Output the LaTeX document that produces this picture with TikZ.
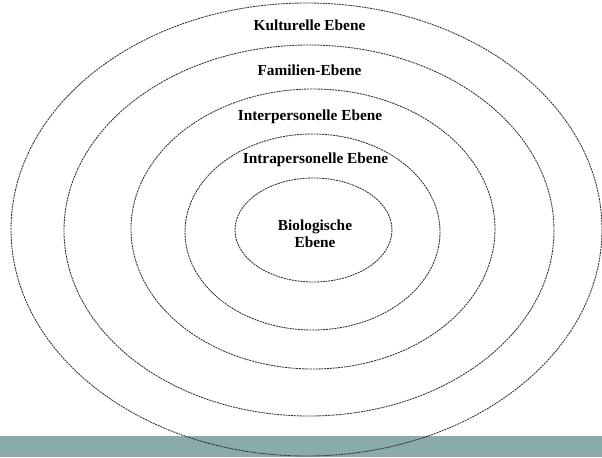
\documentclass[tikz,border=0pt]{standalone}
\usepackage{fontspec}
\setmainfont{Liberation Serif}
\usepackage{xcolor}
\usetikzlibrary{positioning}
\definecolor{barteal}{RGB}{139,171,171}
\definecolor{ringgray}{RGB}{50,50,50}

\begin{document}
\begin{tikzpicture}[
        x=0.75pt, y=-0.75pt,
        ring/.style={draw=ringgray, line width=0.65pt, dash pattern=on 1.5pt off 0.6pt},
        level/.style={font=\fontsize{11.5}{12.8}\selectfont\bfseries, align=center, inner sep=1pt}
    ]
        \useasboundingbox (0,0) rectangle (602,457);
        % Balken unten
        \fill[barteal] (0,436) rectangle (602,457);

        % Ebenen von aussen nach innen
        \draw[ring] (306.5,229.5) ellipse [x radius=295.5, y radius=226.5];
        \draw[ring] (309,230.5) ellipse [x radius=245, y radius=185.5];
        \draw[ring] (313,229) ellipse [x radius=182, y radius=140];
        \draw[ring] (312.5,232) ellipse [x radius=127.5, y radius=98];
        \draw[ring] (313.5,230) ellipse [x radius=78.5, y radius=52];

        \node[level] (kultur) at (309.5,25) {Kulturelle Ebene};
        \node[level] (familie) at (309.5,70) {Familien-Ebene};
        \node[level] (inter) at (310,117) {Interpersonelle Ebene};
        \node[level] (intra) at (315.5,160) {Intrapersonelle Ebene};
        \node[level] (bio) at (315,234) {Biologische\\Ebene};
    \end{tikzpicture}
\end{document}
